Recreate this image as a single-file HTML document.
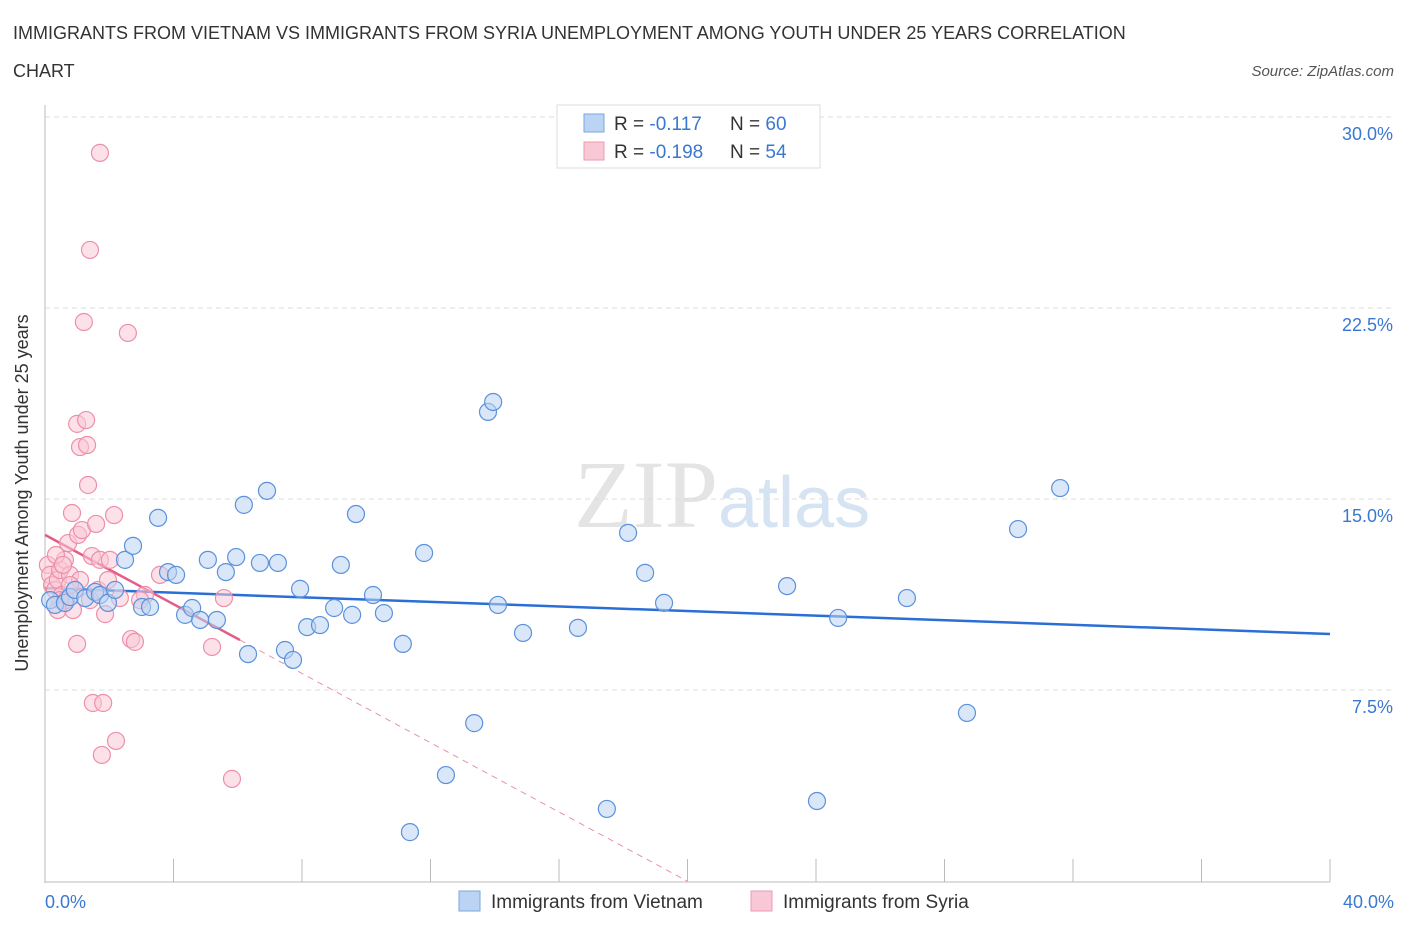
<!DOCTYPE html>
<html><head><meta charset="utf-8"><style>
body{margin:0;background:#fff;font-family:"Liberation Sans",sans-serif;}
#wrap{position:relative;width:1406px;height:930px;overflow:hidden;}
</style></head><body>
<div id="wrap">
<svg id="chart" width="1406" height="930">
<text x="13" y="39" font-size="18" fill="#333">IMMIGRANTS FROM VIETNAM VS IMMIGRANTS FROM SYRIA UNEMPLOYMENT AMONG YOUTH UNDER 25 YEARS CORRELATION</text>
<text x="13" y="77" font-size="18" fill="#333">CHART</text>
<text x="1394" y="76" font-size="15" fill="#555" font-style="italic" text-anchor="end">Source: ZipAtlas.com</text>
<text x="718" y="527" font-size="96" fill="#e4e4e4" font-family="Liberation Serif,serif" text-anchor="end">ZIP</text>
<text x="718" y="527" font-size="72" fill="#d6e3f3">atlas</text>
<g id="grid"></g><g id="axes"></g><g id="trend"></g><g id="pts"></g>
<text x="28" y="493" font-size="18" fill="#333" text-anchor="middle" transform="rotate(-90 28 493)">Unemployment Among Youth under 25 years</text>
<text x="45" y="908" font-size="18" fill="#3a78d0">0.0%</text>
<text x="1394" y="908" font-size="18" fill="#3a78d0" text-anchor="end">40.0%</text>
<g>
<rect x="557" y="105" width="263" height="63" fill="#fff" stroke="#ddd"/>
<rect x="584" y="114" width="20" height="18" fill="#bcd4f3" stroke="#7aa6e0"/>
<rect x="584" y="142" width="20" height="18" fill="#f9c8d6" stroke="#ee9ab2"/>
<text x="614" y="130" font-size="19" fill="#333">R = <tspan fill="#3a78d0">-0.117</tspan><tspan x="730">N = </tspan><tspan fill="#3a78d0">60</tspan></text>
<text x="614" y="158" font-size="19" fill="#333">R = <tspan fill="#3a78d0">-0.198</tspan><tspan x="730">N = </tspan><tspan fill="#3a78d0">54</tspan></text>
</g>
<g>
<rect x="459" y="891" width="21" height="20" fill="#bcd4f3" stroke="#7aa6e0"/>
<text x="491" y="908" font-size="19" fill="#333">Immigrants from Vietnam</text>
<rect x="751" y="891" width="21" height="20" fill="#f9c8d6" stroke="#ee9ab2"/>
<text x="783" y="908" font-size="19" fill="#333">Immigrants from Syria</text>
</g>
</svg>
</div>
<script>
const yTicks=[7.5,15,22.5,30];
const yTickLabels=["7.5%","15.0%","22.5%","30.0%"];
const xTicks=[0,4,8,12,16,20,24,28,32,36,40];
const vietX=[0.16,0.31,0.62,0.78,0.93,1.25,1.56,1.71,1.96,2.18,2.49,2.74,3.02,3.27,3.52,3.83,4.08,4.36,4.58,4.83,5.07,5.35,5.63,5.95,6.19,6.32,6.69,6.91,7.25,7.47,7.72,7.94,8.16,8.56,9.00,9.21,9.56,9.68,10.21,10.55,11.14,11.36,11.80,12.48,13.36,13.79,13.95,14.10,14.88,16.59,17.49,18.15,18.68,19.27,23.10,24.03,24.69,26.83,28.70,30.29,31.60];
const vietY=[11.03,10.84,10.92,11.15,11.43,11.11,11.35,11.23,10.92,11.43,12.61,13.16,10.76,10.76,14.26,12.13,12.02,10.45,10.72,10.25,12.61,10.25,12.13,12.72,14.77,8.91,12.49,15.32,12.49,9.07,8.68,11.47,9.97,10.05,10.72,12.41,10.45,14.41,11.23,10.52,9.31,1.92,12.88,4.16,6.20,18.42,18.81,10.84,9.74,9.94,2.83,13.67,12.10,10.92,11.58,3.14,10.33,11.11,6.60,13.82,15.43];
const syriaX=[0.09,0.16,0.22,0.31,0.40,0.47,0.53,0.62,0.72,0.78,0.84,0.87,0.93,1.00,1.00,1.03,1.09,1.15,1.21,1.28,1.31,1.34,1.40,1.46,1.49,1.59,1.65,1.71,1.77,1.81,1.87,1.96,2.15,2.21,2.58,2.68,2.80,3.11,3.58,5.20,5.57,5.82,1.71,0.47,0.65,1.40,0.34,2.02,2.33,2.96,1.09,0.78,0.56,0.40];
const syriaY=[12.41,12.02,11.62,11.43,11.82,12.21,11.23,12.61,13.27,12.02,14.45,10.64,11.43,17.95,9.31,13.59,17.04,13.78,21.95,18.10,17.12,15.55,24.78,12.76,6.99,14.02,11.43,28.59,4.95,6.99,10.48,11.82,14.37,5.50,21.52,9.50,9.39,11.23,12.02,9.19,11.11,4.01,12.61,11.03,11.03,11.03,12.80,12.61,11.11,11.03,11.82,11.62,12.41,10.64];
const vietTrend=[11.5,-0.045];   // intercept, slope per %
const syriaTrend=[13.59,-0.68];
const syriaSolidEnd=6.07;

const NS="http://www.w3.org/2000/svg";
const X0=45,X1=1330,Y0=881,PX_PER=191/7.5;
const sx=v=>X0+(v/40)*(X1-X0);
const sy=v=>Y0-v*PX_PER;
function mk(tag,attrs,parent){const e=document.createElementNS(NS,tag);for(const k in attrs)e.setAttribute(k,attrs[k]);document.getElementById(parent).appendChild(e);return e;}

yTicks.forEach((t,i)=>{
  const l=mk('line',{x1:X0,x2:1394,y1:sy(t),y2:sy(t),stroke:'#ddd','stroke-dasharray':'5,4'},'grid');
  
  
  const tx=mk('text',{x:1393,y:sy(t)+23,'font-size':18,fill:'#3a78d0','text-anchor':'end'},'grid');
  tx.textContent=yTickLabels[i];
  
  
});
const ya=mk('line',{x1:X0,x2:X0,y1:105,y2:Y0+2,stroke:'#bbb'},'axes');


const xa=mk('line',{x1:X0,x2:X1,y1:Y0+1,y2:Y0+1,stroke:'#bbb'},'axes');


xTicks.forEach(t=>{
  const l=mk('line',{x1:sx(t),x2:sx(t),y1:Y0-22,y2:Y0+1,stroke:'#bbb'},'axes');
  
  
});

function pts(xs,ys,fill,stroke,name){
  xs.forEach((x,i)=>{
    const c=mk('circle',{cx:sx(x),cy:sy(ys[i]),r:8.5,fill:fill,'fill-opacity':0.55,stroke:stroke,'stroke-width':1.2},'pts');
    
    
  });
}
pts(syriaX,syriaY,'#f9c8d6','#ee8faa','syria-point');
pts(vietX,vietY,'#bcd4f3','#5b91dc','vietnam-point');

const bt=mk('line',{x1:sx(0),y1:sy(vietTrend[0]),x2:sx(40),y2:sy(vietTrend[0]+vietTrend[1]*40),stroke:'#2a6fd6','stroke-width':2.5},'trend');


const zeroX=-syriaTrend[0]/syriaTrend[1];
const pd=mk('line',{x1:sx(syriaSolidEnd),y1:sy(syriaTrend[0]+syriaTrend[1]*syriaSolidEnd),x2:sx(zeroX),y2:sy(0),stroke:'#e891aa','stroke-width':1,'stroke-dasharray':'6,5'},'trend');


const ps=mk('line',{x1:sx(0),y1:sy(syriaTrend[0]),x2:sx(syriaSolidEnd),y2:sy(syriaTrend[0]+syriaTrend[1]*syriaSolidEnd),stroke:'#e35d86','stroke-width':2.5},'trend');


</script>
</body></html>
